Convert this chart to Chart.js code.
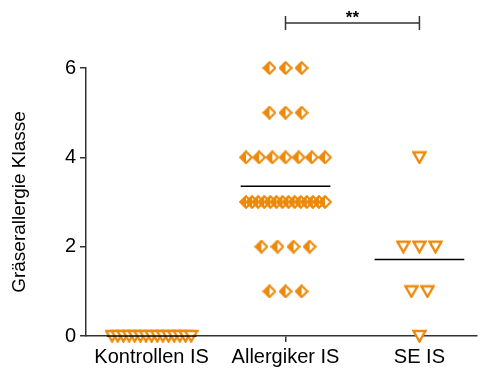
<!DOCTYPE html>
<html>
<head>
<meta charset="utf-8">
<script src="https://cdn.jsdelivr.net/npm/chart.js@4"></script>
<style>
  html, body { margin: 0; padding: 0; background: #fff; }
  #wrap { width: 482px; height: 370px; }
</style>
</head>
<body>
<div id="wrap"><canvas id="c"></canvas></div>
<script>
const categories = ['Kontrollen IS', 'Allergiker IS', 'SE IS'];
const kontrollen = [0, 0, 0, 0, 0, 0, 0, 0, 0, 0, 0, 0, 0, 0, 0];
const allergiker = [6, 6, 6, 5, 5, 5, 4, 4, 4, 4, 4, 4, 4,
  3, 3, 3, 3, 3, 3, 3, 3, 3, 3, 3, 3, 3, 3, 2, 2, 2, 2, 1, 1, 1];
const seIS = [4, 2, 2, 2, 1, 1, 0];
const yTicks = [0, 2, 4, 6];
const sigFrom = 1, sigTo = 2, sigLabel = '**';

const ORANGE = '#ec8a0c';
const AXIS = '#333';
const FONT = '"Liberation Sans", Arial, Helvetica, sans-serif';

// spread equal values side by side (dot plot layout)
function swarm(values, cat) {
  const rows = {};
  values.forEach(v => { (rows[v] = rows[v] || []).push(v); });
  const pts = [];
  Object.keys(rows).forEach(k => {
    const n = rows[k].length;
    const step = n > 1 ? Math.min(0.12, 0.59 / (n - 1)) : 0;
    for (let i = 0; i < n; i++) pts.push({ x: cat + (i - (n - 1) / 2) * step, y: +k });
  });
  return pts;
}
const mean = (a) => a.reduce((s, v) => s + v, 0) / a.length;
function meanLine(values, cat) {
  const m = mean(values);
  return [{ x: cat - 0.335, y: m }, { x: cat + 0.335, y: m }];
}

// half filled diamond
function diamond() {
  const c = document.createElement('canvas');
  c.width = 14; c.height = 14;
  const g = c.getContext('2d');
  const cx = 7, cy = 7, r = 5.8;
  g.beginPath();
  g.moveTo(cx, cy - r); g.lineTo(cx + r, cy); g.lineTo(cx, cy + r); g.lineTo(cx - r, cy); g.closePath();
  g.fillStyle = '#fff'; g.fill();
  g.beginPath();
  g.moveTo(cx, cy - r); g.lineTo(cx, cy + r); g.lineTo(cx - r, cy); g.closePath();
  g.fillStyle = ORANGE; g.fill();
  g.beginPath();
  g.moveTo(cx, cy - r); g.lineTo(cx + r, cy); g.lineTo(cx, cy + r); g.lineTo(cx - r, cy); g.closePath();
  g.strokeStyle = ORANGE; g.lineWidth = 2.2; g.stroke();
  return c;
}
// open down triangle
function triDown() {
  const c = document.createElement('canvas');
  c.width = 15; c.height = 14;
  const g = c.getContext('2d');
  g.beginPath();
  g.moveTo(1.5, 2); g.lineTo(13.5, 2); g.lineTo(7.5, 12.5); g.closePath();
  g.fillStyle = '#fff'; g.fill();
  g.strokeStyle = ORANGE; g.lineWidth = 2.4; g.lineJoin = 'miter'; g.stroke();
  return c;
}

const bracket = {
  id: 'bracket',
  afterDraw(chart) {
    const { ctx, scales: { x } } = chart;
    const x1 = x.getPixelForValue(sigFrom), x2 = x.getPixelForValue(sigTo);
    const y = 23;
    ctx.save();
    ctx.strokeStyle = AXIS; ctx.lineWidth = 1.5;
    ctx.beginPath();
    ctx.moveTo(x1, y); ctx.lineTo(x2, y);
    ctx.moveTo(x1, y - 7); ctx.lineTo(x1, y + 7);
    ctx.moveTo(x2, y - 7); ctx.lineTo(x2, y + 7);
    ctx.stroke();
    ctx.fillStyle = '#000';
    ctx.font = 'bold 17px ' + FONT;
    ctx.textAlign = 'center'; ctx.textBaseline = 'middle';
    ctx.fillText(sigLabel, (x1 + x2) / 2, 18);
    ctx.restore();
  }
};

const dia = diamond(), tri = triDown();
const lineDs = (data) => ({ type: 'line', data, borderColor: '#000', borderWidth: 1.5, pointRadius: 0, clip: false });

new Chart(document.getElementById('c'), {
  type: 'scatter',
  data: {
    datasets: [
      lineDs(meanLine(kontrollen, 0)),
      lineDs(meanLine(allergiker, 1)),
      lineDs(meanLine(seIS, 2)),
      { data: swarm(kontrollen, 0), pointStyle: tri, clip: false },
      { data: swarm(allergiker, 1), pointStyle: dia, clip: false },
      { data: swarm(seIS, 2), pointStyle: tri, clip: false }
    ]
  },
  options: {
    responsive: true,
    maintainAspectRatio: false,
    animation: false,
    layout: { padding: { top: 68, right: 0, bottom: 0, left: 0 } },
    plugins: { legend: { display: false }, tooltip: { enabled: false } },
    scales: {
      x: {
        type: 'linear', min: -0.49, max: 2.43,
        afterBuildTicks: (s) => { s.ticks = categories.map((_, i) => ({ value: i })); },
        afterFit: (s) => { s.height = 34; },
        ticks: { callback: (v) => categories[v], color: '#000', font: { family: FONT, size: 20 }, padding: 3, maxRotation: 0 },
        grid: { drawOnChartArea: false, color: AXIS, lineWidth: 1.5, tickLength: 6 },
        border: { color: AXIS, width: 1.5 }
      },
      y: {
        min: 0, max: 6,
        afterBuildTicks: (s) => { s.ticks = yTicks.map(v => ({ value: v })); },
        afterFit: (s) => { s.width = 86; },
        ticks: { color: '#000', font: { family: FONT, size: 20 }, padding: 4 },
        grid: { drawOnChartArea: false, color: AXIS, lineWidth: 1.5, tickLength: 6 },
        border: { color: AXIS, width: 1.5 },
        title: { display: true, text: 'Gräserallergie Klasse', color: '#000', font: { family: FONT, size: 19 }, padding: { top: 8, bottom: 0 } }
      }
    }
  },
  plugins: [bracket]
});
</script>
</body>
</html>
